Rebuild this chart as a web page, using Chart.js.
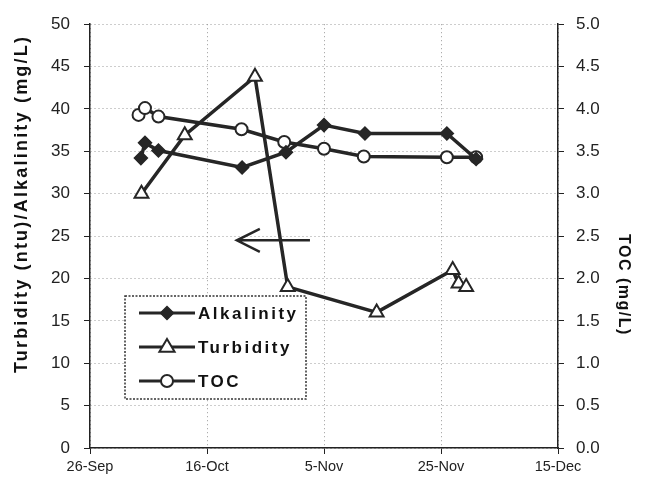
<!DOCTYPE html>
<html>
<head>
<meta charset="utf-8">
<script src="https://cdn.jsdelivr.net/npm/chart.js@4.4.1/dist/chart.umd.min.js"></script>
<style>
  html, body { margin: 0; padding: 0; background: #fff; }
  #wrap { width: 650px; height: 485px; position: relative; }
</style>
</head>
<body>
<div id="wrap"><canvas id="waterChart"></canvas></div>
<script>
// days counted from 26-Sep
const xTickLabels = ['26-Sep', '16-Oct', '5-Nov', '25-Nov', '15-Dec'];

const alkDays   = [8.7, 9.4, 11.7, 26, 33.5, 40, 47, 61, 66];
const alkValues = [34.2, 36.0, 35.1, 33.1, 34.9, 38.1, 37.1, 37.1, 34.1];

const turbDays   = [8.8, 16.2, 28.2, 33.8, 49, 62, 63, 64.3];
const turbValues = [30.0, 36.9, 43.8, 19.0, 16.0, 21.0, 19.4, 19.0];

const tocDays   = [8.3, 9.4, 11.7, 25.9, 33.2, 40, 46.8, 61, 66];
const tocValues = [3.93, 4.01, 3.91, 3.76, 3.61, 3.53, 3.44, 3.43, 3.43];

const seriesNames = ['Alkalinity', 'Turbidity', 'TOC'];

// arrow annotation (pointing at left axis), in data units
const arrowFrom = { x: 37.6, y: 24.5 };
const arrowTo   = { x: 25.1, y: 24.5 };

const ink = '#262626';

function toPoints(days, vals) {
    return days.map((d, i) => ({ x: d, y: vals[i] }));
}

function drawMarkerPath(ctx, style, r, x, y) {
    if (style === 'rectRot') {
        ctx.moveTo(x, y - r); ctx.lineTo(x + r, y); ctx.lineTo(x, y + r); ctx.lineTo(x - r, y); ctx.closePath();
    } else if (style === 'triangle') {
        ctx.moveTo(x, y - r); ctx.lineTo(x + r * 0.95, y + r * 0.6); ctx.lineTo(x - r * 0.95, y + r * 0.6); ctx.closePath();
    } else {
        ctx.arc(x, y, r, 0, Math.PI * 2);
    }
}

// ==========================================
// extra drawing: axis titles, arrow, legend box
// ==========================================
const extrasPlugin = {
    id: 'extras',
    beforeDatasetsDraw: function(chart) {
        const ctx = chart.ctx, xs = chart.scales.x, ys = chart.scales.y;
        const x1 = xs.getPixelForValue(arrowFrom.x), y1 = ys.getPixelForValue(arrowFrom.y);
        const x2 = xs.getPixelForValue(arrowTo.x), y2 = ys.getPixelForValue(arrowTo.y);
        ctx.save();
        ctx.strokeStyle = ink;
        ctx.lineWidth = 2.5;
        ctx.beginPath();
        ctx.moveTo(x1, y1); ctx.lineTo(x2, y2);
        ctx.moveTo(x2 + 23, y2 - 11.5); ctx.lineTo(x2, y2); ctx.lineTo(x2 + 23, y2 + 11.5);
        ctx.stroke();
        ctx.restore();
    },
    afterDatasetsDraw: function(chart) {
        const ctx = chart.ctx;
        ctx.save();
        // legend box
        const bx = 125, by = 296, bw = 181, bh = 103;
        ctx.fillStyle = '#fff';
        ctx.fillRect(bx, by, bw, bh);
        ctx.strokeStyle = '#333';
        ctx.lineWidth = 1.5;
        ctx.setLineDash([2, 1.5]);
        ctx.strokeRect(bx, by, bw, bh);
        ctx.setLineDash([]);

        const rowY = [313, 347, 381];
        chart.data.datasets.forEach((ds, i) => {
            const y = rowY[i];
            ctx.strokeStyle = ink;
            ctx.lineWidth = 3;
            ctx.beginPath();
            ctx.moveTo(139, y); ctx.lineTo(195, y);
            ctx.stroke();
            ctx.fillStyle = ds.pointBackgroundColor;
            ctx.lineWidth = ds.pointBorderWidth;
            ctx.beginPath();
            drawMarkerPath(ctx, ds.pointStyle, ds.pointRadius, 167, y);
            ctx.fill(); ctx.stroke();

            ctx.fillStyle = '#111';
            ctx.font = "bold 17px 'Liberation Sans', Arial, sans-serif";
            ctx.letterSpacing = '2.5px';
            ctx.textBaseline = 'middle';
            ctx.textAlign = 'left';
            ctx.fillText(ds.label, 198, y + 1);
        });

        // left axis title
        ctx.fillStyle = '#111';
        ctx.font = "bold 18px 'Liberation Sans', Arial, sans-serif";
        ctx.letterSpacing = '2.2px';
        ctx.textAlign = 'center';
        ctx.textBaseline = 'middle';
        ctx.translate(22, 204);
        ctx.rotate(-Math.PI / 2);
        ctx.fillText('Turbidity (ntu)/Alkalinity (mg/L)', 0, 0);
        ctx.setTransform(1, 0, 0, 1, 0, 0);

        // right axis title
        ctx.font = "bold 16px 'Liberation Sans', Arial, sans-serif";
        ctx.letterSpacing = '1.5px';
        ctx.translate(623, 285);
        ctx.rotate(Math.PI / 2);
        ctx.fillText('TOC (mg/L)', 0, 0);
        ctx.restore();
    }
};

const fontTicks = { family: "'Liberation Sans', Arial, sans-serif", size: 17 };
const gridStyle = {
    color: '#9a9a9a', lineWidth: 1,
    tickColor: '#222', tickLength: 6, tickBorderDash: [], tickWidth: 1
};
const borderStyle = { color: '#222', width: 1.5, dash: [1, 3] };

new Chart(document.getElementById('waterChart'), {
    type: 'line',
    data: {
        datasets: [
            {
                label: seriesNames[0], data: toPoints(alkDays, alkValues), yAxisID: 'y',
                borderColor: ink, borderWidth: 3.5, pointStyle: 'rectRot', pointRadius: 6.5,
                pointBackgroundColor: ink, pointBorderColor: ink, pointBorderWidth: 1.5,
                tension: 0
            },
            {
                label: seriesNames[1], data: toPoints(turbDays, turbValues), yAxisID: 'y',
                borderColor: ink, borderWidth: 3.5, pointStyle: 'triangle', pointRadius: 8,
                pointBackgroundColor: '#fff', pointBorderColor: ink, pointBorderWidth: 2,
                tension: 0
            },
            {
                label: seriesNames[2], data: toPoints(tocDays, tocValues), yAxisID: 'y1',
                borderColor: ink, borderWidth: 3.5, pointStyle: 'circle', pointRadius: 6,
                pointBackgroundColor: '#fff', pointBorderColor: ink, pointBorderWidth: 2,
                tension: 0
            }
        ]
    },
    options: {
        responsive: true, maintainAspectRatio: false, animation: false,
        layout: { padding: { top: 20, left: 0, right: 0, bottom: 0 } },
        plugins: { legend: { display: false }, tooltip: { enabled: false } },
        scales: {
            x: {
                type: 'linear', min: 0, max: 80,
                afterFit: s => { s.height = 37; },
                ticks: {
                    stepSize: 20, padding: 4, color: '#222',
                    font: { family: fontTicks.family, size: 14.5 },
                    callback: v => xTickLabels[v / 20]
                },
                grid: gridStyle,
                border: borderStyle
            },
            y: {
                position: 'left', min: 0, max: 50,
                afterFit: s => { s.width = 90; },
                ticks: { stepSize: 5, padding: 14, color: '#222', font: fontTicks },
                grid: gridStyle,
                border: borderStyle
            },
            y1: {
                position: 'right', min: 0, max: 5,
                afterFit: s => { s.width = 92; },
                ticks: {
                    stepSize: 0.5, padding: 12, color: '#222', font: fontTicks,
                    callback: v => v.toFixed(1)
                },
                grid: { drawOnChartArea: false, tickColor: '#222', tickLength: 6 },
                border: { color: '#222', width: 1.5 }
            }
        }
    },
    plugins: [extrasPlugin]
});
</script>
</body>
</html>
